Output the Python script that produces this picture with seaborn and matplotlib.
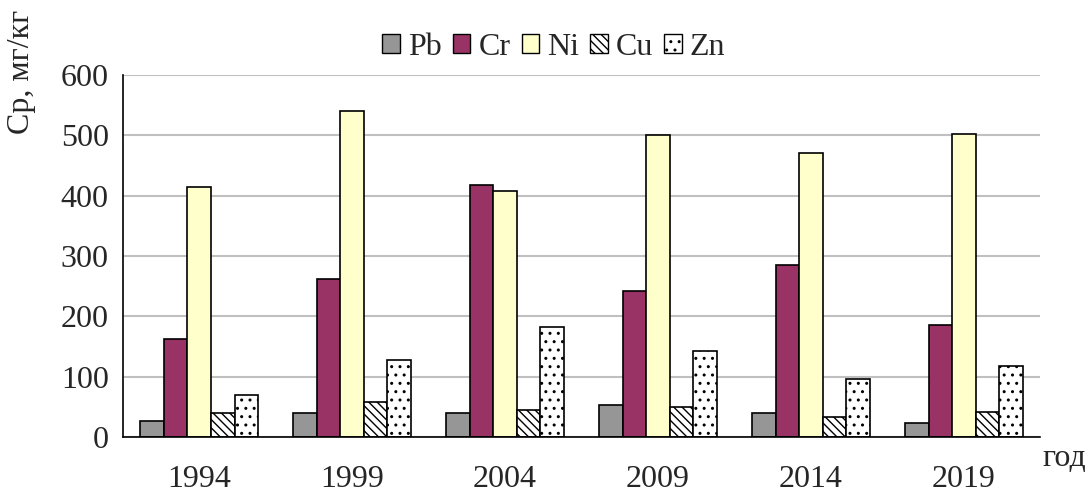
import numpy as np
import pandas as pd
import matplotlib
matplotlib.use("Agg")
import matplotlib.pyplot as plt
from matplotlib.patches import Patch
import seaborn as sns

years = ["1994", "1999", "2004", "2009", "2014", "2019"]
elements = ["Pb", "Cr", "Ni", "Cu", "Zn"]
pb = [27, 40, 40, 53, 40, 23]
cr = [163, 262, 417, 242, 285, 186]
ni = [414, 540, 407, 500, 470, 503]
cu = [40, 57, 44, 50, 33, 41]
zn = [70, 127, 182, 143, 96, 118]

colors = ["#969696", "#993366", "#FFFFCC", "#FFFFFF", "#FFFFFF"]
hatches = ["", "", "", "\\\\\\\\", ".."]

rows = []
for el, vals in zip(elements, [pb, cr, ni, cu, zn]):
    for y, v in zip(years, vals):
        rows.append({"year": y, "element": el, "value": v})
df = pd.DataFrame(rows)

sns.set_style("white")
plt.rcParams["font.family"] = ["Liberation Serif", "DejaVu Serif"]
plt.rcParams["hatch.color"] = "black"
plt.rcParams["hatch.linewidth"] = 1.0

FS = 23

fig = plt.figure(figsize=(10.86, 4.97), dpi=100)
ax = fig.add_axes([0.113, 0.121, 0.845, 0.728])

sns.barplot(data=df, x="year", y="value", hue="element", order=years,
            hue_order=elements, palette=colors, width=0.77, saturation=1,
            edgecolor="black", linewidth=1.2, ax=ax, legend=False)

for cont, h in zip(ax.containers, hatches):
    for bar in cont:
        bar.set_hatch(h)

ax.set_ylim(0, 600)
ax.set_xlim(-0.5, 5.5)
ax.set_yticks(np.arange(0, 601, 100))
ax.yaxis.grid(True, color="#C0C0C0", linewidth=1.5)
ax.set_axisbelow(True)
for s in ["top", "right"]:
    ax.spines[s].set_visible(False)
for s in ["left", "bottom"]:
    ax.spines[s].set_color("black")
    ax.spines[s].set_linewidth(1.2)

ax.set_xticks(np.arange(-0.5, 6.0, 1.0), minor=True)
ax.tick_params(axis="x", which="major", length=0, pad=20, labelsize=FS)
ax.tick_params(axis="x", which="minor", length=9, width=1.2, color="black", direction="out")
ax.tick_params(axis="y", which="major", length=12, width=1.2, color="black",
               direction="inout", labelsize=FS, pad=4)

ax.set_xlabel("")
ax.set_ylabel("Ср, мг/кг", fontsize=FS)
ax.yaxis.set_label_coords(-0.094, 1.01)
ax.text(1.002, -0.02, "год", transform=ax.transAxes, fontsize=FS, ha="left", va="top")

handles = [Patch(facecolor=c, edgecolor="black", hatch=h, linewidth=1.0)
           for c, h in zip(colors, hatches)]
fig.legend(handles, elements, loc="center", bbox_to_anchor=(0.51, 0.905), ncol=5,
           frameon=False, fontsize=FS, handlelength=0.55, handleheight=0.55,
           handletextpad=0.25, columnspacing=0.35)

fig.savefig("out.png", dpi=100)
